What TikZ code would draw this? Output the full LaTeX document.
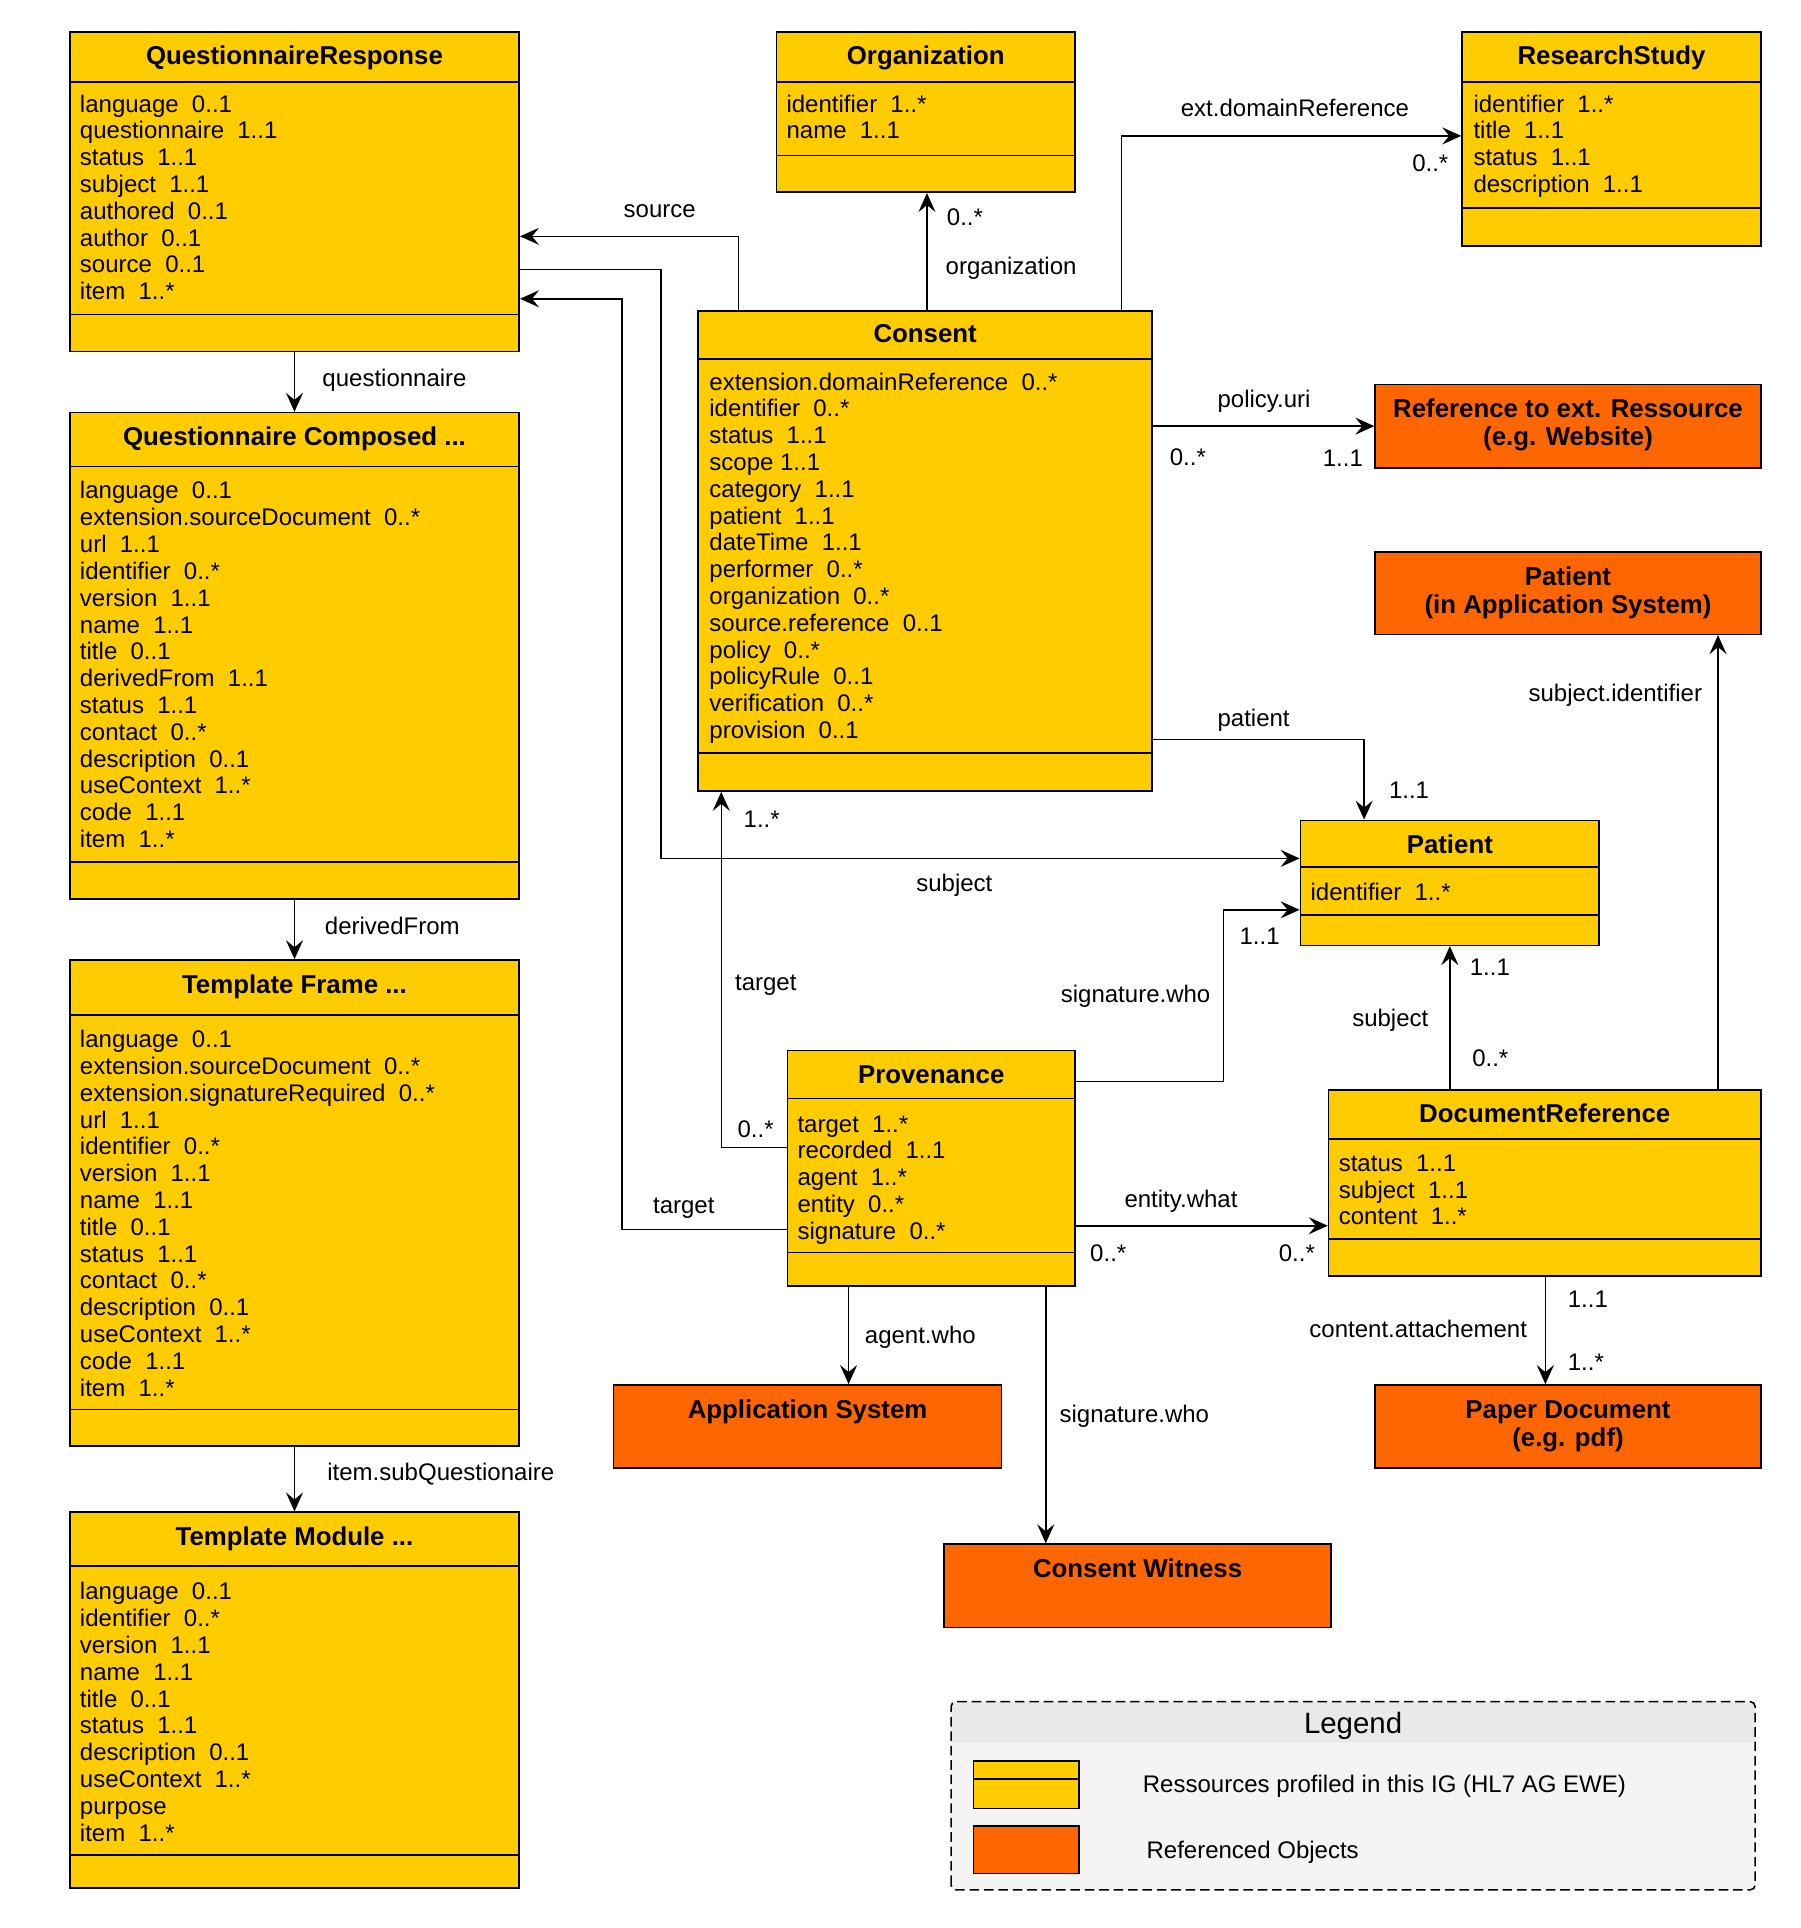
\documentclass[tikz,border=0pt]{standalone}
\usepackage{fontspec}
\setmainfont{Liberation Sans}
\usetikzlibrary{arrows.meta,fit,calc}
\definecolor{umlyellow}{HTML}{FFCC00}
\definecolor{umlorange}{HTML}{FF6600}
\definecolor{leghead}{HTML}{E9E9E9}
\definecolor{legbody}{HTML}{F4F4F4}
\newcommand\attrgap{\hspace{0.55em}}
\newcommand\attrlist[4]{\foreach \t [count=\i] in {#4} {\node[attr, name=#1-\i] at (#2,{#3+(\i-1)*21.9}) {\t};}}
\tikzset{
 attr/.style={anchor=base west, inner sep=0, font=\fontsize{12}{14}\selectfont},
 ttl/.style={anchor=base, inner sep=0, font=\fontsize{12.9}{15}\selectfont\bfseries},
 lbl/.style={anchor=base west, inner sep=0, font=\fontsize{12}{14}\selectfont},
 cls/.style={draw, fill=umlyellow, line width=0.8pt, inner sep=0},
 refbox/.style={draw, fill=umlorange, line width=0.8pt, inner sep=0},
 div/.style={line width=0.8pt},
 conn/.style={line width=0.75pt},
 arr/.style={conn, -{Stealth[length=9.5pt,width=8.5pt,inset=3.5pt]}},
}
\begin{document}
\begin{tikzpicture}[x=0.612pt, y=-0.612pt]
\useasboundingbox (0,0) rectangle (1470,1574.5);

% ---------- QuestionnaireResponse
\node[cls, fit={(57,26)(424,287)}] (qr) {};
\draw[div] (qr.west |- 0,67) -- (qr.east |- 0,67);
\draw[div] (qr.west |- 0,257) -- (qr.east |- 0,257);
\node[ttl] (qr-t) at (240.5,53) {QuestionnaireResponse};
\attrlist{qr}{65}{91.5}{language\attrgap 0..1, questionnaire\attrgap 1..1, status\attrgap 1..1, subject\attrgap 1..1, authored\attrgap 0..1, author\attrgap 0..1, source\attrgap 0..1, item\attrgap 1..*}

% ---------- Questionnaire Composed
\node[cls, fit={(57,337)(424,734)}] (qc) {};
\draw[div] (qc.west |- 0,381) -- (qc.east |- 0,381);
\draw[div] (qc.west |- 0,704) -- (qc.east |- 0,704);
\node[ttl] (qc-t) at (240.5,364) {Questionnaire Composed ...};
\attrlist{qc}{65}{407.5}{language\attrgap 0..1, extension.sourceDocument\attrgap 0..*, url\attrgap 1..1, identifier\attrgap 0..*, version\attrgap 1..1, name\attrgap 1..1, title\attrgap 0..1, derivedFrom\attrgap 1..1, status\attrgap 1..1, contact\attrgap 0..*, description\attrgap 0..1, useContext\attrgap 1..*, code\attrgap 1..1, item\attrgap 1..*}

% ---------- Template Frame
\node[cls, fit={(57,784)(424,1181)}] (tf) {};
\draw[div] (tf.west |- 0,829) -- (tf.east |- 0,829);
\draw[div] (tf.west |- 0,1151) -- (tf.east |- 0,1151);
\node[ttl] (tf-t) at (240.5,811) {Template Frame ...};
\attrlist{tf}{65}{855.5}{language\attrgap 0..1, extension.sourceDocument\attrgap 0..*, extension.signatureRequired\attrgap 0..*, url\attrgap 1..1, identifier\attrgap 0..*, version\attrgap 1..1, name\attrgap 1..1, title\attrgap 0..1, status\attrgap 1..1, contact\attrgap 0..*, description\attrgap 0..1, useContext\attrgap 1..*, code\attrgap 1..1, item\attrgap 1..*}

% ---------- Template Module
\node[cls, fit={(57,1235)(424,1542)}] (tm) {};
\draw[div] (tm.west |- 0,1279) -- (tm.east |- 0,1279);
\draw[div] (tm.west |- 0,1515) -- (tm.east |- 0,1515);
\node[ttl] (tm-t) at (240.5,1262) {Template Module ...};
\attrlist{tm}{65}{1306.5}{language\attrgap 0..1, identifier\attrgap 0..*, version\attrgap 1..1, name\attrgap 1..1, title\attrgap 0..1, status\attrgap 1..1, description\attrgap 0..1, useContext\attrgap 1..*, purpose, item\attrgap 1..*}

% ---------- Organization
\node[cls, fit={(634,26)(878,157)}] (org) {};
\draw[div] (org.west |- 0,67) -- (org.east |- 0,67);
\draw[div] (org.west |- 0,127) -- (org.east |- 0,127);
\node[ttl] (org-t) at (756,53) {Organization};
\attrlist{org}{642}{91.5}{identifier\attrgap 1..*, name\attrgap 1..1}

% ---------- ResearchStudy
\node[cls, fit={(1194,26)(1438,201)}] (rs) {};
\draw[div] (rs.west |- 0,67) -- (rs.east |- 0,67);
\draw[div] (rs.west |- 0,170) -- (rs.east |- 0,170);
\node[ttl] (rs-t) at (1316,53) {ResearchStudy};
\attrlist{rs}{1203}{91.5}{identifier\attrgap 1..*, title\attrgap 1..1, status\attrgap 1..1, description\attrgap 1..1}

% ---------- Consent
\node[cls, fit={(570,254)(941,646)}] (cons) {};
\draw[div] (cons.west |- 0,293) -- (cons.east |- 0,293);
\draw[div] (cons.west |- 0,615) -- (cons.east |- 0,615);
\node[ttl] (cons-t) at (755.5,280) {Consent};
\attrlist{cons}{579}{318.5}{extension.domainReference\attrgap 0..*, identifier\attrgap 0..*, status\attrgap 1..1, scope 1..1, category\attrgap 1..1, patient\attrgap 1..1, dateTime\attrgap 1..1, performer\attrgap 0..*, organization\attrgap 0..*, source.reference\attrgap 0..1, policy\attrgap 0..*, policyRule\attrgap 0..1, verification\attrgap 0..*, provision\attrgap 0..1}

% ---------- Patient
\node[cls, fit={(1062,670)(1306,772)}] (pat) {};
\draw[div] (pat.west |- 0,708) -- (pat.east |- 0,708);
\draw[div] (pat.west |- 0,747) -- (pat.east |- 0,747);
\node[ttl] (pat-t) at (1184,697) {Patient};
\attrlist{pat}{1070}{735.5}{identifier\attrgap 1..*}

% ---------- Provenance
\node[cls, fit={(643,858)(878,1050)}] (prov) {};
\draw[div] (prov.west |- 0,897) -- (prov.east |- 0,897);
\draw[div] (prov.west |- 0,1023) -- (prov.east |- 0,1023);
\node[ttl] (prov-t) at (760.5,885) {Provenance};
\attrlist{prov}{651}{924.5}{target\attrgap 1..*, recorded\attrgap 1..1, agent\attrgap 1..*, entity\attrgap 0..*, signature\attrgap 0..*}

% ---------- DocumentReference
\node[cls, fit={(1085,890)(1438,1042)}] (dr) {};
\draw[div] (dr.west |- 0,930) -- (dr.east |- 0,930);
\draw[div] (dr.west |- 0,1012) -- (dr.east |- 0,1012);
\node[ttl] (dr-t) at (1261.5,917) {DocumentReference};
\attrlist{dr}{1093}{956.5}{status\attrgap 1..1, subject\attrgap 1..1, content\attrgap 1..*}

% ---------- Referenced (orange) objects
\node[refbox, fit={(1123,314)(1438,382)}] (ext) {};
\node[ttl] (ext-t1) at (1280.5,341) {Reference to ext. Ressource};
\node[ttl] (ext-t2) at (1280.5,364) {(e.g. Website)};

\node[refbox, fit={(1123,451)(1438,518)}] (pas) {};
\node[ttl] (pas-t1) at (1280.5,478) {Patient};
\node[ttl] (pas-t2) at (1280.5,501) {(in Application System)};

\node[refbox, fit={(501,1131)(818,1199)}] (app) {};
\node[ttl] (app-t) at (659.5,1158) {Application System};

\node[refbox, fit={(771,1261)(1087,1329)}] (wit) {};
\node[ttl] (wit-t) at (929,1288) {Consent Witness};

\node[refbox, fit={(1123,1131)(1438,1199)}] (pdf) {};
\node[ttl] (pdf-t1) at (1280.5,1158) {Paper Document};
\node[ttl] (pdf-t2) at (1280.5,1181) {(e.g. pdf)};

% ---------- Connectors
% questionnaire chain
\draw[arr] (qr.south) -- (qc.north);
\node[lbl] (l-quest) at (263,316) {questionnaire};
\draw[arr] (qc.south) -- (tf.north);
\node[lbl] (l-deriv) at (265,763) {derivedFrom};
\draw[arr] (tf.south) -- (tm.north);
\node[lbl] (l-subq) at (267,1209) {item.subQuestionaire};

% Consent -> QR (source)
\draw[arr] (cons.north -| 603,0) |- (qr.east |- 0,193);
\node[lbl] (l-source) at (509,178) {source};

% QR -> Patient (subject)
\draw[arr] (qr.east |- 0,220) -- (540,220) -- (540,701) -- (pat.west |- 0,701);
\node[lbl] (l-subj1) at (748,728) {subject};

% Provenance -> QR (target)
\draw[arr] (prov.west |- 0,1004) -- (508,1004) -- (508,244) -- (qr.east |- 0,244);
\node[lbl] (l-targ1) at (533,991) {target};

% Provenance -> Consent (target)
\draw[arr] (prov.west |- 0,937) -- (589,937) -- (cons.south -| 589,0);
\node[lbl] (l-targ2) at (600,809) {target};
\node[lbl] (m-targ2a) at (602,929) {0..*};
\node[lbl] (m-targ2b) at (607,676) {1..*};

% Consent -> Organization
\draw[arr] (cons.north -| 757,0) -- (org.south -| 757,0);
\node[lbl] (m-org) at (773,184) {0..*};
\node[lbl] (l-org) at (772,224) {organization};

% Consent -> ResearchStudy
\draw[arr] (cons.north -| 916,0) |- (rs.west |- 0,111);
\node[lbl] (l-dom) at (964,95) {ext.domainReference};
\node[lbl] (m-dom) at (1153,140) {0..*};

% Consent -> ext. Ressource
\draw[arr] (cons.east |- 0,348) -- (ext.west |- 0,348);
\node[lbl] (l-pol) at (994,333) {policy.uri};
\node[lbl] (m-pol1) at (955,380) {0..*};
\node[lbl] (m-pol2) at (1080,381) {1..1};

% Consent -> Patient
\draw[arr] (cons.east |- 0,604) -| (pat.north -| 1114,0);
\node[lbl] (l-pat) at (994,593) {patient};
\node[lbl] (m-pat) at (1134,652) {1..1};

% Provenance -> Patient (signature.who)
\draw[arr] (prov.east |- 0,883) -- (999,883) -- (999,743) -- (pat.west |- 0,743);
\node[lbl] (l-sig1) at (866,819) {signature.who};
\node[lbl] (m-sig1) at (1012,771) {1..1};

% DocumentReference -> Patient (subject)
\draw[arr] (dr.north -| pat.south) -- (pat.south);
\node[lbl] (l-subj2) at (1104,838) {subject};
\node[lbl] (m-subj2a) at (1200,797) {1..1};
\node[lbl] (m-subj2b) at (1202,871) {0..*};

% DocumentReference -> Patient in Application System
\draw[arr] (dr.north -| 1403,0) -- (pas.south -| 1403,0);
\node[lbl] (l-subjid) at (1248,573) {subject.identifier};

% Provenance -> DocumentReference
\draw[arr] (prov.east |- 0,1001) -- (dr.west |- 0,1001);
\node[lbl] (l-ent) at (918,986) {entity.what};
\node[lbl] (m-ent1) at (890,1030) {0..*};
\node[lbl] (m-ent2) at (1044,1030) {0..*};

% Provenance -> Application System
\draw[arr] (prov.south -| 693,0) -- (app.north -| 693,0);
\node[lbl] (l-agent) at (706,1097) {agent.who};

% Provenance -> Consent Witness
\draw[arr] (prov.south -| 854,0) -- (wit.north -| 854,0);
\node[lbl] (l-sig2) at (865,1162) {signature.who};

% DocumentReference -> Paper Document
\draw[arr] (dr.south -| 1262,0) -- (pdf.north -| 1262,0);
\node[lbl] (l-att) at (1069,1092) {content.attachement};
\node[lbl] (m-att1) at (1280,1068) {1..1};
\node[lbl] (m-att2) at (1280,1119) {1..*};

% ---------- Legend
\node[fit={(777,1390)(1433,1543)}, inner sep=0, fill=legbody, rounded corners=2.4pt] (leg) {};
\fill[leghead] (777,1423) [rounded corners=2.4pt] |- (1105,1390) -| (1433,1423) [sharp corners] -- cycle;
\draw[line width=0.8pt, dash pattern=on 4.8pt off 2.4pt, rounded corners=2.4pt] (leg.south west) rectangle (leg.north east);
\node[anchor=base, inner sep=0, font=\fontsize{14.7}{17}\selectfont] (leg-t) at (1105,1415.5) {Legend};
\node[cls, fit={(795,1438)(881,1477)}] (sw1) {};
\draw[div] (sw1.west |- 0,1453) -- (sw1.east |- 0,1453);
\node[lbl] (leg-1) at (933,1464) {Ressources profiled in this IG (HL7 AG EWE)};
\node[refbox, fit={(795,1491)(881,1530)}] (sw2) {};
\node[lbl] (leg-2) at (936,1518) {Referenced Objects};
\end{tikzpicture}
\end{document}
